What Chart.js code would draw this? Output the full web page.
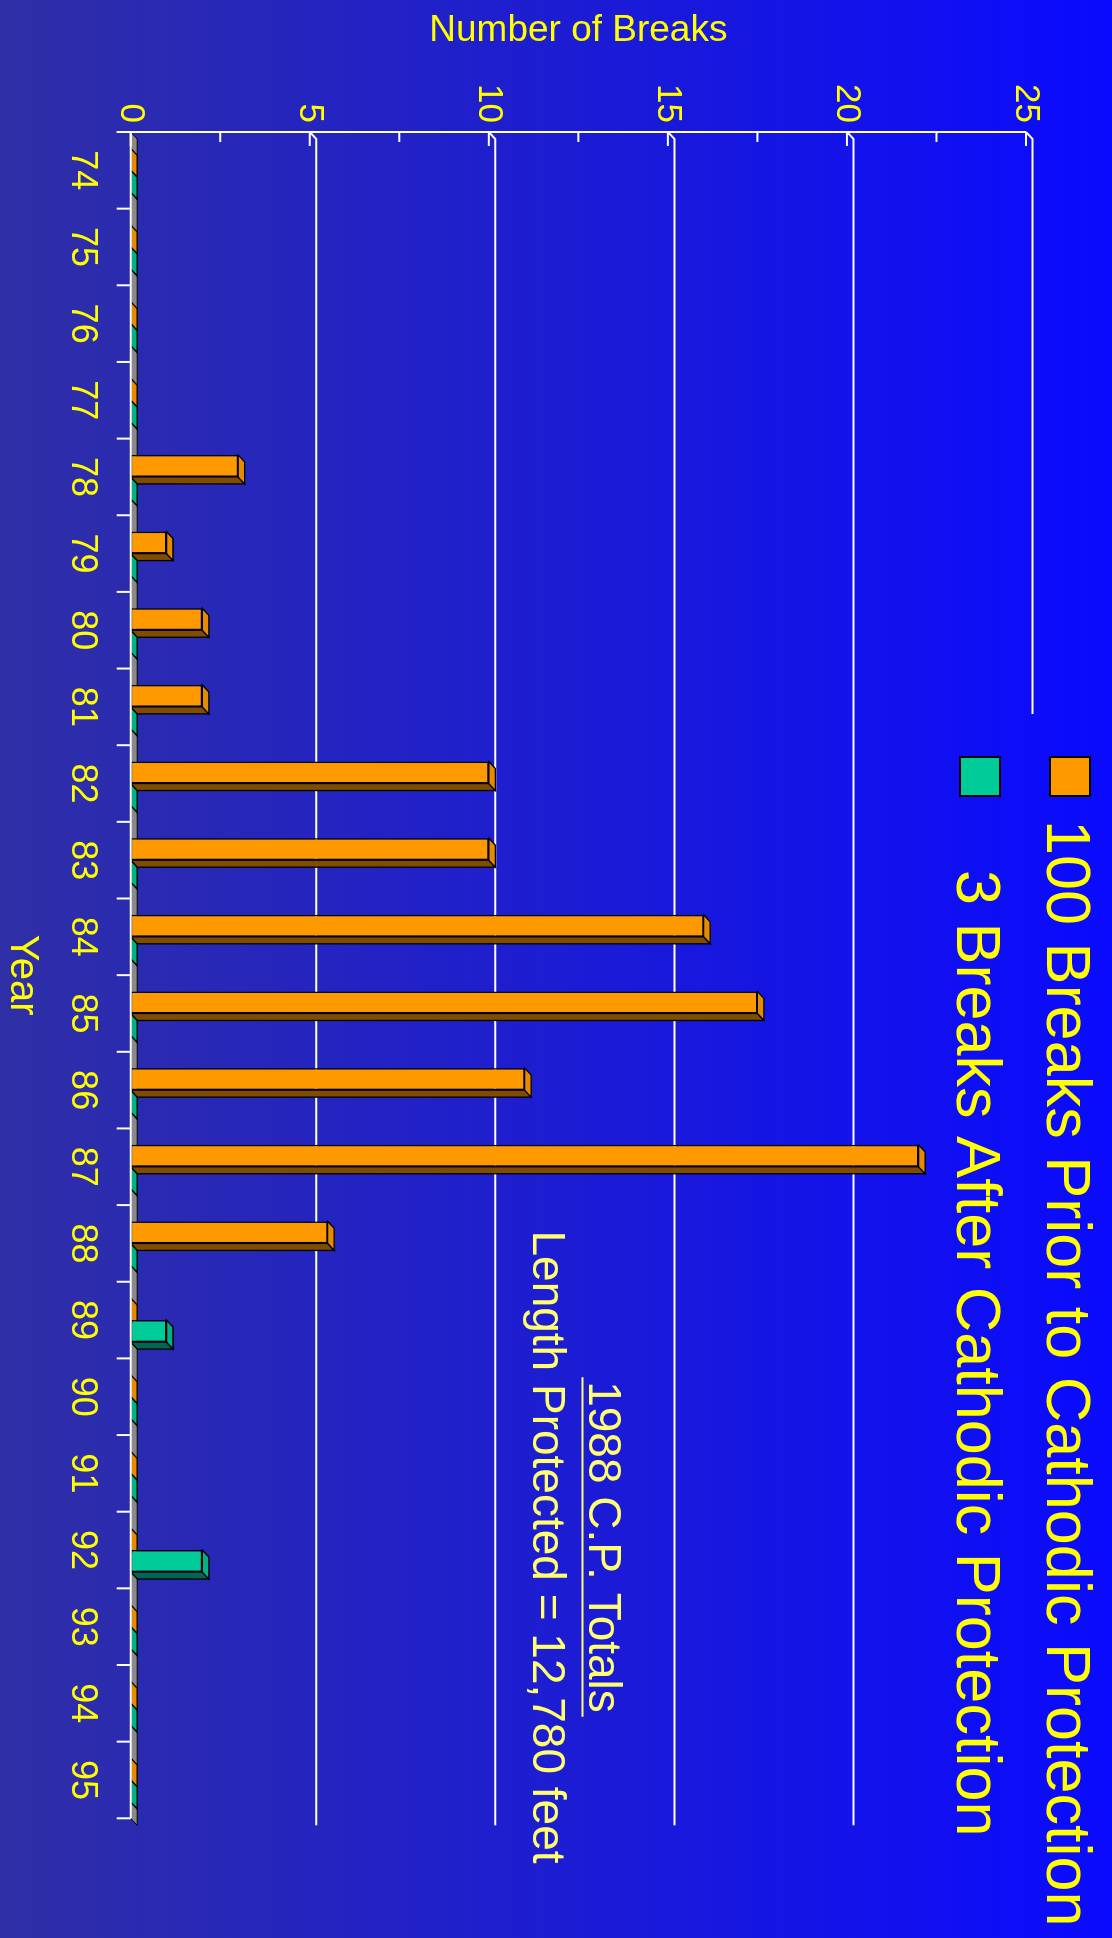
<!DOCTYPE html>
<html>
<head>
<meta charset="utf-8">
<script src="https://cdn.jsdelivr.net/npm/chart.js@4.4.1/dist/chart.umd.min.js"></script>
<style>
html,body{margin:0;padding:0;width:1112px;height:1938px;overflow:hidden;background:linear-gradient(to right,#2f2fa6,#0a0aff);}
#wrap{position:absolute;left:0;top:0;width:1938px;height:1112px;transform-origin:0 0;transform:translate(1112px,0) rotate(90deg);}
canvas{display:block;}
</style>
</head>
<body>
<div id="wrap"><canvas id="c" width="1938" height="1112"></canvas></div>
<script>
// ---- data ----
const years = ['74','75','76','77','78','79','80','81','82','83','84','85','86','87','88','89','90','91','92','93','94','95'];
const priorBreaks = [0,0,0,0,3,1,2,2,10,10,16,17.5,11,22,5.5,0,0,0,0,0,0,0];
const afterBreaks = [0,0,0,0,0,0,0,0,0,0,0,0,0,0,0,1,0,0,2,0,0,0];
const seriesLabels = ['100 Breaks Prior to Cathodic Protection','3 Breaks After Cathodic Protection'];
const valueTickStep = 5;
const valueMax = 25;
const noteLines = ['1988 C.P. Totals','Length Protected = 12,780 feet'];
const axisTitles = {x:'Year', y:'Number of Breaks'};

// ---- style ----
const FONT = '"Liberation Sans", Arial, Helvetica, sans-serif';
const YELLOW = '#ffff00';
const DX = 7, DY = -6.5; // 3D depth
Chart.defaults.font.family = FONT;

function makeGrad(ctx, h){
  const g = ctx.createLinearGradient(0, h, 0, 0);
  g.addColorStop(0, '#2f2fa6');
  g.addColorStop(1, '#0a0aff');
  return g;
}

const bgPlugin = {
  id:'bg',
  beforeDraw(chart){
    const {ctx,width,height} = chart;
    ctx.save();
    ctx.fillStyle = makeGrad(ctx, height);
    ctx.fillRect(0,0,width,height);
    ctx.restore();
  }
};

const wallsPlugin = {
  id:'walls',
  beforeDatasetsDraw(chart, args, opts){
    const {ctx, chartArea:a, scales:{x,y}} = chart;
    const y0 = y.getPixelForValue(0);
    ctx.save();
    // floor
    ctx.beginPath();
    ctx.moveTo(a.left,y0); ctx.lineTo(a.right,y0);
    ctx.lineTo(a.right+DX,y0+DY); ctx.lineTo(a.left+DX,y0+DY); ctx.closePath();
    ctx.fillStyle = '#8a8a8a'; ctx.fill();
    ctx.strokeStyle = '#000'; ctx.lineWidth = 1; ctx.stroke();
    // back-wall gridlines
    ctx.strokeStyle = '#ffffff'; ctx.lineWidth = 2;
    y.ticks.forEach(t => {
      if (t.value === 0) return;
      const py = y.getPixelForValue(t.value);
      ctx.beginPath();
      ctx.moveTo(a.left, py);
      ctx.lineTo(a.left+DX, py+DY);
      ctx.lineTo(a.right+DX, py+DY);
      ctx.stroke();
    });
    // legend backdrop
    const lb = opts.legendBackdrop;
    ctx.fillStyle = makeGrad(ctx, chart.height);
    ctx.fillRect(lb[0], lb[1], lb[2], lb[3]);
    // 3D faces of bars
    const metas = [0,1].map(i => chart.getDatasetMeta(i));
    const face = (ds, bar, zeroPass) => {
      const p = bar.getProps(['x','y','base','width'], true);
      const l = p.x - p.width/2, r = p.x + p.width/2;
      const isZero = Math.abs(p.base - p.y) < 0.5;
      if (isZero !== zeroPass) return;
      ctx.lineWidth = 1.3; ctx.strokeStyle = '#000';
      if (!isZero){
        ctx.beginPath();
        ctx.moveTo(r,p.y); ctx.lineTo(r+DX,p.y+DY); ctx.lineTo(r+DX,p.base+DY); ctx.lineTo(r,p.base); ctx.closePath();
        ctx.fillStyle = ds.sideColor; ctx.fill(); ctx.stroke();
      }
      ctx.beginPath();
      ctx.moveTo(l,p.y); ctx.lineTo(l+DX,p.y+DY); ctx.lineTo(r+DX,p.y+DY); ctx.lineTo(r,p.y); ctx.closePath();
      ctx.fillStyle = ds.topColor; ctx.fill(); ctx.stroke();
    };
    [true,false].forEach(zp => {
      metas.forEach((m,i) => {
        const ds = chart.data.datasets[i];
        m.data.forEach(bar => face(ds, bar, zp));
      });
    });
    ctx.restore();
  }
};

const axesPlugin = {
  id:'axes3d',
  afterDatasetsDraw(chart){
    const {ctx, chartArea:a, scales:{x,y}} = chart;
    const y0 = y.getPixelForValue(0);
    const n = x.ticks.length;
    const cw = (a.right - a.left)/n;
    ctx.save();
    ctx.strokeStyle = '#ffffff'; ctx.lineWidth = 2;
    // value axis line
    ctx.beginPath(); ctx.moveTo(a.left, y.getPixelForValue(y.max)); ctx.lineTo(a.left, y0+14); ctx.stroke();
    // category axis line
    ctx.beginPath(); ctx.moveTo(a.left, y0); ctx.lineTo(a.right, y0); ctx.stroke();
    // category ticks (boundaries)
    for (let i=0;i<=n;i++){
      const bx = a.left + i*cw;
      ctx.beginPath(); ctx.moveTo(bx, y0); ctx.lineTo(bx, y0+14); ctx.stroke();
    }
    // value ticks (major inward, minor halfway)
    y.ticks.forEach((t,i) => {
      const py = y.getPixelForValue(t.value);
      ctx.beginPath(); ctx.moveTo(a.left, py); ctx.lineTo(a.left+14, py); ctx.stroke();
      if (i < y.ticks.length-1){
        const pm = y.getPixelForValue((t.value + y.ticks[i+1].value)/2);
        ctx.beginPath(); ctx.moveTo(a.left, pm); ctx.lineTo(a.left+10, pm); ctx.stroke();
      }
    });
    ctx.restore();
  }
};

const legendNotePlugin = {
  id:'legendNote',
  afterDraw(chart, args, o){
    const {ctx} = chart;
    ctx.save();
    // legend
    ctx.font = o.legendFont + 'px ' + FONT;
    ctx.textAlign = 'left'; ctx.textBaseline = 'alphabetic';
    chart.data.datasets.forEach((ds,i) => {
      ctx.fillStyle = ds.backgroundColor;
      ctx.fillRect(o.boxX, o.rowTop[i], o.boxW, o.boxH);
      ctx.strokeStyle = '#000'; ctx.lineWidth = 2;
      ctx.strokeRect(o.boxX, o.rowTop[i], o.boxW, o.boxH);
      ctx.fillStyle = YELLOW;
      ctx.fillText(ds.label, o.textX[i], o.textBase[i]);
    });
    // note
    ctx.fillStyle = o.noteColor;
    ctx.font = o.noteFont + 'px ' + FONT;
    ctx.textAlign = 'center';
    noteLines.forEach((t,i) => ctx.fillText(t, o.noteX, o.noteBase[i]));
    const w = ctx.measureText(noteLines[0]).width;
    ctx.strokeStyle = o.noteColor; ctx.lineWidth = 2;
    ctx.beginPath();
    ctx.moveTo(o.noteX - w/2 - 4, o.underlineY); ctx.lineTo(o.noteX + w/2 + 4, o.underlineY);
    ctx.stroke();
    ctx.restore();
  }
};

new Chart(document.getElementById('c').getContext('2d'), {
  type:'bar',
  data:{
    labels: years,
    datasets:[
      {label:seriesLabels[0], data:priorBreaks, backgroundColor:'#ff9900', sideColor:'#7f4c00', topColor:'#e68a00',
       borderColor:'#000', borderWidth:1.5, borderSkipped:false, categoryPercentage:0.574, barPercentage:1},
      {label:seriesLabels[1], data:afterBreaks, backgroundColor:'#00cc99', sideColor:'#006650', topColor:'#00b386',
       borderColor:'#000', borderWidth:1.5, borderSkipped:false, categoryPercentage:0.574, barPercentage:1}
    ]
  },
  options:{
    responsive:false,
    animation:false,
    devicePixelRatio:1,
    events:[],
    layout:{padding:{top:86, right:119.7, left:0, bottom:0}},
    plugins:{
      legend:{display:false},
      tooltip:{enabled:false},
      walls:{legendBackdrop:[714, 0, 1224, 165]},
      legendNote:{
        legendFont:63, boxX:757, boxW:39, boxH:40, rowTop:[22,112], textX:[820,870], textBase:[65,155],
        noteColor:'#ffff70', noteFont:46, noteX:1547, noteBase:[522.7,579.3], underlineY:529.5
      }
    },
    scales:{
      x:{
        offset:true,
        grid:{display:false, drawTicks:false},
        border:{display:false},
        ticks:{color:YELLOW, font:{size:36}, padding:27, maxRotation:0, autoSkip:false},
        title:{display:true, text:axisTitles.x, color:YELLOW, font:{size:40, lineHeight:1.1}, padding:0},
        afterFit(s){ s.height = 130.7; }
      },
      y:{
        min:0, max:valueMax,
        ticks:{stepSize:valueTickStep, color:YELLOW, font:{size:35}, padding:9},
        grid:{display:false, drawTicks:false},
        border:{display:false},
        title:{display:true, text:axisTitles.y, color:YELLOW, font:{size:37, lineHeight:1.2}, padding:{top:9,bottom:0}},
        afterFit(s){ s.width = 132; }
      }
    }
  },
  plugins:[bgPlugin, wallsPlugin, axesPlugin, legendNotePlugin]
});
</script>
</body>
</html>
